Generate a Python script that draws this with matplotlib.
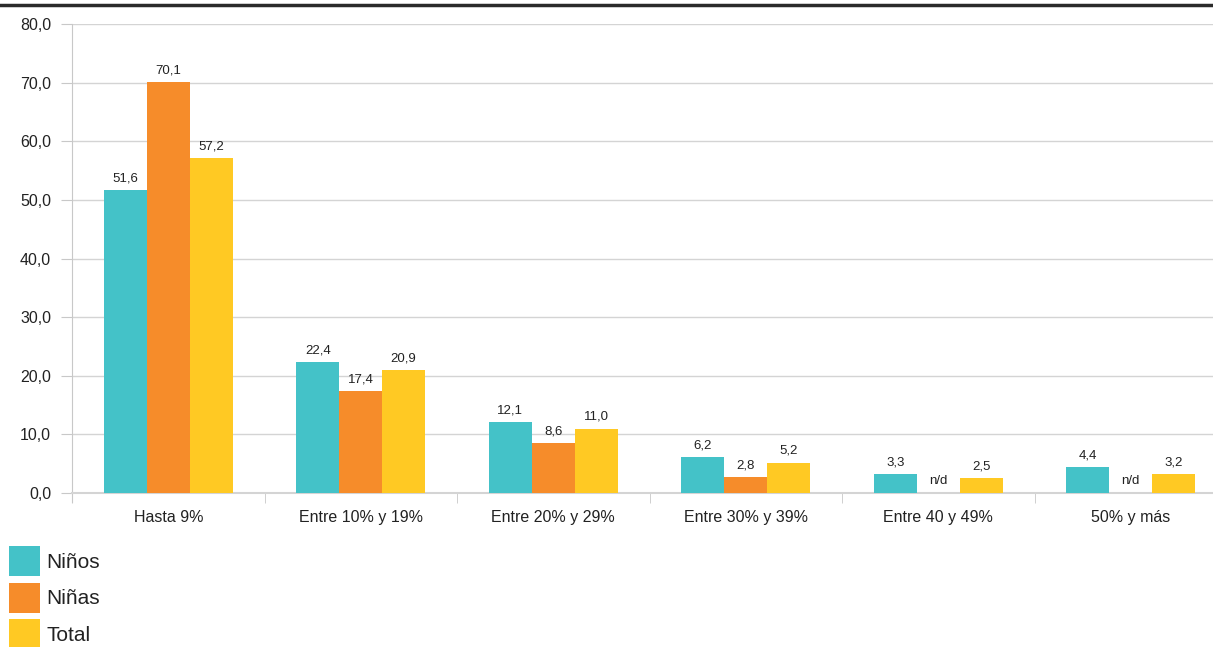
import matplotlib.pyplot as plt
from matplotlib.lines import Line2D
from matplotlib.patches import Patch
import numpy as np

plt.rcParams['font.family'] = ['Liberation Sans', 'DejaVu Sans']

categorias = ['Hasta 9%', 'Entre 10% y 19%', 'Entre 20% y 29%', 'Entre 30% y 39%', 'Entre 40 y 49%', '50% y más']
ninos = [51.6, 22.4, 12.1, 6.2, 3.3, 4.4]
ninas = [70.1, 17.4, 8.6, 2.8, None, None]
total = [57.2, 20.9, 11.0, 5.2, 2.5, 3.2]
series = ['Niños', 'Niñas', 'Total']
colores = ['#44C2C8', '#F68C2A', '#FFC923']

W, H = 1213, 647
fig = plt.figure(figsize=(W / 100, H / 100), dpi=100)
ax = fig.add_axes([72 / W, 1 - 493 / H, 1155 / W, 469 / H])

x = np.arange(len(categorias))
ancho = 0.223
texto = '#222222'

for i, (vals, color) in enumerate(zip([ninos, ninas, total], colores)):
    pos = x + (i - 1) * ancho
    for xp, v in zip(pos, vals):
        if v is None:
            ax.annotate('n/d', (xp, 0), xytext=(0, 4), textcoords='offset points',
                        ha='center', va='bottom', fontsize=9.5, color=texto)
            continue
        ax.bar(xp, v, width=ancho, color=color, zorder=3)
        ax.annotate(f'{v:.1f}'.replace('.', ','), (xp, v), xytext=(0, 4),
                    textcoords='offset points', ha='center', va='bottom',
                    fontsize=9.5, color=texto)

ax.set_xlim(-0.5, 5.5)
ax.set_ylim(0, 80)
ax.set_yticks(np.arange(0, 81, 10))
ax.set_yticklabels([f'{v:.1f}'.replace('.', ',') for v in np.arange(0, 81, 10)])
ax.yaxis.grid(True, color='#d4d4d4', linewidth=1, zorder=0)
ax.tick_params(axis='y', length=8, color='#c8c8c8', pad=7, labelsize=11.5, labelcolor=texto)

ax.set_xticks(x)
ax.set_xticklabels(categorias)
ax.set_xticks(np.arange(-0.5, 6, 1), minor=True)
ax.tick_params(axis='x', which='major', length=0, pad=12, labelsize=11.5, labelcolor=texto)
ax.tick_params(axis='x', which='minor', length=7, color='#c8c8c8')

for lado in ['top', 'right']:
    ax.spines[lado].set_visible(False)
ax.spines['left'].set_color('#c8c8c8')
ax.spines['left'].set_bounds(-1.5, 80)
ax.spines['bottom'].set_color('#d4d4d4')
ax.spines['bottom'].set_linewidth(1.5)

# línea negra superior
fig.add_artist(Line2D([0, 1], [1 - 5 / H, 1 - 5 / H], color='#2b2b2b', linewidth=2.5))

manijas = [Patch(facecolor=c) for c in colores]
fig.legend(manijas, series, loc='upper left', bbox_to_anchor=(9 / W, 1 - 546 / H),
           frameon=False, fontsize=15, handlelength=1.5, handleheight=1.86,
           handletextpad=0.3, labelspacing=0.3, borderpad=0, borderaxespad=0,
           labelcolor=texto)

fig.savefig('out.png', dpi=100)
